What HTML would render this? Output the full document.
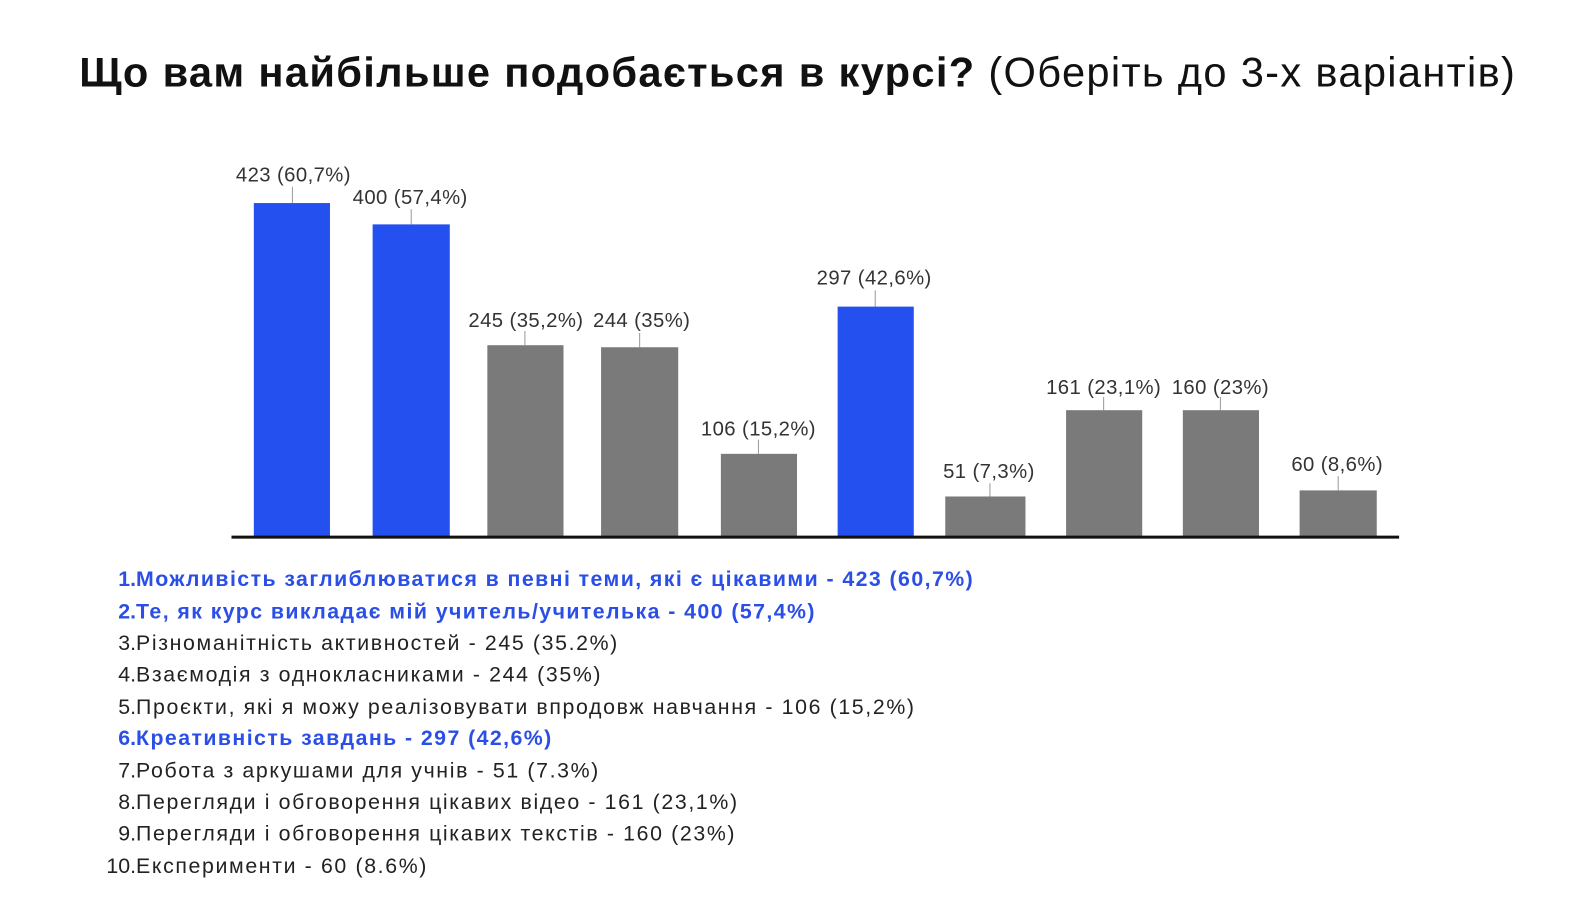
<!DOCTYPE html>
<html><head><meta charset="utf-8"><style>
html,body{margin:0;padding:0;background:#fff;width:1592px;height:912px;overflow:hidden}
#w{position:absolute;left:0;top:0;width:1568px;height:898px;transform:scale(1.01531);transform-origin:0 0;font-family:"Liberation Sans","DejaVu Sans",sans-serif}
.t{position:absolute;left:78px;top:48px;font-size:41px;color:#111;white-space:nowrap;letter-spacing:1.3px}
.t b{font-weight:900}
.li{position:absolute;left:0;font-size:21px;color:#222;white-space:nowrap;letter-spacing:1.6px}
.li .n{display:inline-block;width:134px;text-align:right;letter-spacing:0}
.li.b{color:#2a4ee6;font-weight:bold;letter-spacing:1.4px}
</style></head><body><div id="w">
<div class="t"><b>Що вам найбільше подобається в курсі?</b> (Оберіть до 3-х варіантів)</div>
<svg width="1568" height="898" style="position:absolute;left:0;top:0">
<rect x="250" y="200" width="75" height="329" fill="#2350ef"/>
<rect x="367" y="221" width="76" height="308" fill="#2350ef"/>
<rect x="480" y="340" width="75" height="189" fill="#7a7a7a"/>
<rect x="592" y="342" width="76" height="187" fill="#7a7a7a"/>
<rect x="710" y="447" width="75" height="82" fill="#7a7a7a"/>
<rect x="825" y="302" width="75" height="227" fill="#2350ef"/>
<rect x="931" y="489" width="79" height="40" fill="#7a7a7a"/>
<rect x="1050" y="404" width="75" height="125" fill="#7a7a7a"/>
<rect x="1165" y="404" width="75" height="125" fill="#7a7a7a"/>
<rect x="1280" y="483" width="76" height="46" fill="#7a7a7a"/>
<line x1="228" y1="529" x2="1378" y2="529" stroke="#111" stroke-width="3"/>
<g stroke="#999" stroke-width="1">
<line x1="288" y1="184" x2="288" y2="200"/><line x1="405" y1="206" x2="405" y2="221"/>
<line x1="517" y1="326" x2="517" y2="340"/><line x1="630" y1="328" x2="630" y2="342"/>
<line x1="747" y1="433" x2="747" y2="447"/><line x1="862" y1="286" x2="862" y2="302"/>
<line x1="975" y1="476" x2="975" y2="489"/><line x1="1087" y1="391" x2="1087" y2="404"/>
<line x1="1202" y1="391" x2="1202" y2="404"/><line x1="1318" y1="469" x2="1318" y2="483"/>
</g>
<g font-family="Liberation Sans,sans-serif" font-size="20" fill="#333" text-anchor="middle" letter-spacing="0.4">
<text x="289" y="179">423 (60,7%)</text><text x="404" y="201">400 (57,4%)</text>
<text x="518" y="322">245 (35,2%)</text><text x="632" y="322">244 (35%)</text>
<text x="747" y="429">106 (15,2%)</text><text x="861" y="280">297 (42,6%)</text>
<text x="974" y="471">51 (7,3%)</text><text x="1087" y="388">161 (23,1%)</text>
<text x="1202" y="388">160 (23%)</text><text x="1317" y="464">60 (8,6%)</text>
</g>
</svg>
<div class="li b" style="top:559px"><span class="n">1.</span>Можливість заглиблюватися в певні теми, які є цікавими - 423 (60,7%)</div>
<div class="li b" style="top:591px"><span class="n">2.</span>Те, як курс викладає мій учитель/учителька - 400 (57,4%)</div>
<div class="li" style="top:622px"><span class="n">3.</span>Різноманітність активностей - 245 (35.2%)</div>
<div class="li" style="top:653px"><span class="n">4.</span>Взаємодія з однокласниками - 244 (35%)</div>
<div class="li" style="top:685px"><span class="n">5.</span>Проєкти, які я можу реалізовувати впродовж навчання - 106 (15,2%)</div>
<div class="li b" style="top:716px"><span class="n">6.</span>Креативність завдань - 297 (42,6%)</div>
<div class="li" style="top:748px"><span class="n">7.</span>Робота з аркушами для учнів - 51 (7.3%)</div>
<div class="li" style="top:779px"><span class="n">8.</span>Перегляди і обговорення цікавих відео - 161 (23,1%)</div>
<div class="li" style="top:810px"><span class="n">9.</span>Перегляди і обговорення цікавих текстів - 160 (23%)</div>
<div class="li" style="top:842px"><span class="n">10.</span>Експерименти - 60 (8.6%)</div>
</div></body></html>
